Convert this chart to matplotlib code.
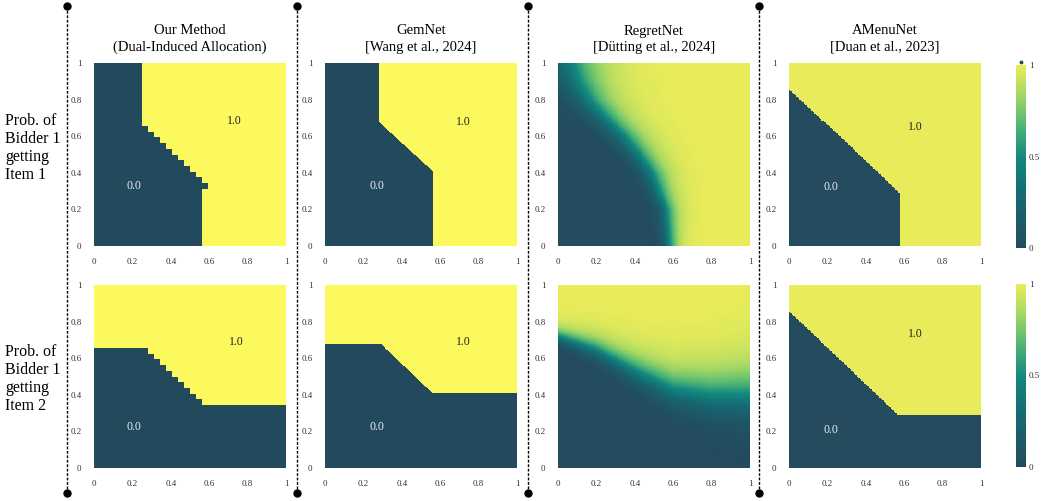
import numpy as np
import matplotlib
matplotlib.use("Agg")
import matplotlib.pyplot as plt
from matplotlib.colors import LinearSegmentedColormap, ListedColormap
from matplotlib.lines import Line2D
from matplotlib.cm import ScalarMappable
from matplotlib.colors import Normalize

plt.rcParams["font.family"] = "serif"
plt.rcParams["font.serif"] = ["Liberation Serif", "DejaVu Serif"]

titles = ["Our Method\n(Dual-Induced Allocation)", "GemNet\n[Wang et al., 2024]",
          "RegretNet\n[Dütting et al., 2024]", "AMenuNet\n[Duan et al., 2023]"]
row_labels = ["Prob. of\nBidder 1\ngetting\nItem 1", "Prob. of\nBidder 1\ngetting\nItem 2"]
tick_vals = [0, 0.2, 0.4, 0.6, 0.8, 1]
tick_labels = ["0", "0.2", "0.4", "0.6", "0.8", "1"]

# our method: 32x32 grid, item 1 -> dark cells per row (from the left)
ours_grid = 32
ours_item1_cut = [18, 18, 18, 18, 18, 18, 18, 18, 18, 18, 19,
                  18, 17, 16, 15, 14, 13, 12, 11, 10, 9,
                  8, 8, 8, 8, 8, 8, 8, 8, 8, 8, 8]
# item 2 -> dark cells per column (from the bottom)
ours_item2_height = [21, 21, 21, 21, 21, 21, 21, 21, 21,
                     20, 19, 18, 17, 16, 15, 14, 13, 12,
                     11, 11, 11, 11, 11, 11, 11, 11, 11, 11, 11, 11, 11, 11]

# GemNet boundary vertices
gemnet_item1_y = [0, 0.41, 0.68, 1]
gemnet_item1_x = [0.56, 0.56, 0.28, 0.28]
gemnet_item2_x = [0, 0.29, 0.56, 1]
gemnet_item2_y = [0.68, 0.68, 0.41, 0.41]

# RegretNet soft boundary (mid point and width of the transition)
regret_item1_y = [0, 0.2, 0.4, 0.5, 0.6, 0.7, 0.8, 0.9, 1.0]
regret_item1_mid = [0.57, 0.55, 0.47, 0.40, 0.32, 0.22, 0.13, 0.07, 0.03]
regret_item1_width = [0.02, 0.025, 0.035, 0.04, 0.045, 0.05, 0.055, 0.06, 0.065]
regret_item2_x = [0, 0.2, 0.4, 0.6, 0.8, 1.0]
regret_item2_mid = [0.71, 0.63, 0.51, 0.40, 0.36, 0.35]
regret_item2_width = [0.02, 0.03, 0.04, 0.05, 0.06, 0.07]

# AMenuNet boundary vertices
amenu_item1_y = [0, 0.29, 0.86, 1]
amenu_item1_x = [0.575, 0.575, 0.0, 0.0]
amenu_item2_x = [0, 0.565, 1]
amenu_item2_y = [0.86, 0.295, 0.29]

# annotation positions (x, y) for "0.0" and "1.0"
ann_zero = [[(0.21, 0.33), (0.27, 0.33), None, (0.22, 0.32)],
            [(0.21, 0.226), (0.27, 0.226), None, (0.22, 0.21)]]
ann_one = [[(0.73, 0.685), (0.72, 0.68), None, (0.66, 0.65)],
           [(0.74, 0.69), (0.72, 0.69), None, (0.66, 0.73)]]

cmap_soft = LinearSegmentedColormap.from_list(
    "soft", [(0, "#244b5e"), (0.3, "#156b74"), (0.5, "#12897f"),
             (0.7, "#5cbd72"), (0.85, "#a9d964"), (1, "#e9ec5a")])
cmap_hard = ListedColormap(["#234a5c", "#fcf95e"])

# grids
n = ours_grid
z_ours1 = np.zeros((n, n))
for r in range(n):
    z_ours1[r, ours_item1_cut[r]:] = 1
z_ours2 = np.zeros((n, n))
for c in range(n):
    z_ours2[ours_item2_height[c]:, c] = 1

m = 400
g = (np.arange(m) + 0.5) / m
X, Y = np.meshgrid(g, g)
z_gem1 = (X >= np.interp(Y, gemnet_item1_y, gemnet_item1_x)).astype(float)
z_gem2 = (Y >= np.interp(X, gemnet_item2_x, gemnet_item2_y)).astype(float)

z_reg1 = 1 / (1 + np.exp(-(X - np.interp(Y, regret_item1_y, regret_item1_mid))
                         / np.interp(Y, regret_item1_y, regret_item1_width)))
z_reg2 = 1 / (1 + np.exp(-(Y - np.interp(X, regret_item2_x, regret_item2_mid))
                         / np.interp(X, regret_item2_x, regret_item2_width)))
# longer tail on the yellow side
z_reg1 = 1 - (1 - z_reg1) ** 0.6
z_reg2 = 1 - (1 - z_reg2) ** 0.6

k = 130
ga = (np.arange(k) + 0.5) / k
XA, YA = np.meshgrid(ga, ga)
z_am1 = (XA >= np.interp(YA, amenu_item1_y, amenu_item1_x)).astype(float)
z_am2 = (YA >= np.interp(XA, amenu_item2_x, amenu_item2_y)).astype(float)

grids = [[(z_ours1, cmap_hard), (z_gem1, cmap_hard), (z_reg1, cmap_soft), (z_am1, cmap_soft)],
         [(z_ours2, cmap_hard), (z_gem2, cmap_hard), (z_reg2, cmap_soft), (z_am2, cmap_soft)]]

W, H = 1050, 501
fig = plt.figure(figsize=(10.5, 5.01), dpi=100)

col_left = [94, 325, 558, 789]
col_w = 192
row_top = [63, 285]
row_h = 183

for i in range(2):
    for j in range(4):
        ax = fig.add_axes([col_left[j] / W, 1 - (row_top[i] + row_h) / H, col_w / W, row_h / H])
        z, cm = grids[i][j]
        ax.imshow(z, origin="lower", extent=(0, 1, 0, 1), cmap=cm, vmin=0, vmax=1,
                  aspect="auto", interpolation="nearest")
        ax.set_xlim(0, 1)
        ax.set_ylim(0, 1)
        ax.set_xticks(tick_vals)
        ax.set_xticklabels(tick_labels)
        ax.set_yticks(tick_vals)
        ax.set_yticklabels(tick_labels)
        ax.tick_params(length=0, labelsize=6.5, pad=9, labelcolor="#333333")
        for s in ax.spines.values():
            s.set_visible(False)
        if ann_zero[i][j] is not None:
            ax.text(*ann_zero[i][j], "0.0", color="#e8eef0", fontsize=8.5, ha="center", va="center")
            ax.text(*ann_one[i][j], "1.0", color="#222222", fontsize=8.5, ha="center", va="center")
        if i == 0:
            ax.set_title(titles[j], fontsize=10.5, pad=9, linespacing=1.3)

for i in range(2):
    fig.text(5 / W, 1 - (148 + i * 231) / H, row_labels[i], fontsize=11.5,
             ha="left", va="center", linespacing=1.15)

# colorbars
cb_top = [65, 284]
for i in range(2):
    cax = fig.add_axes([1016 / W, 1 - (cb_top[i] + 183) / H, 10 / W, 183 / H])
    cb = fig.colorbar(ScalarMappable(norm=Normalize(0, 1), cmap=cmap_soft), cax=cax)
    cb.set_ticks([0, 0.5, 1])
    cb.set_ticklabels(["0", "0.5", "1"])
    cb.outline.set_visible(False)
    cax.tick_params(length=0, labelsize=6.5, pad=2, labelcolor="#333333")

fig.add_artist(Line2D([1021 / W], [1 - 62 / H], marker="o", markersize=1.8,
                      color="#244b5e", transform=fig.transFigure))

# dashed separators with end dots
for xp in [67, 297, 528, 759]:
    xf = xp / W
    fig.add_artist(Line2D([xf, xf], [1 - 6 / H, 1 - 493 / H], transform=fig.transFigure,
                          color="black", lw=1, linestyle=(0, (2, 1.2))))
    fig.add_artist(Line2D([xf, xf], [1 - 6 / H, 1 - 493 / H], transform=fig.transFigure,
                          color="black", linestyle="none", marker="o", markersize=5))

plt.savefig("out.png", dpi=100)
